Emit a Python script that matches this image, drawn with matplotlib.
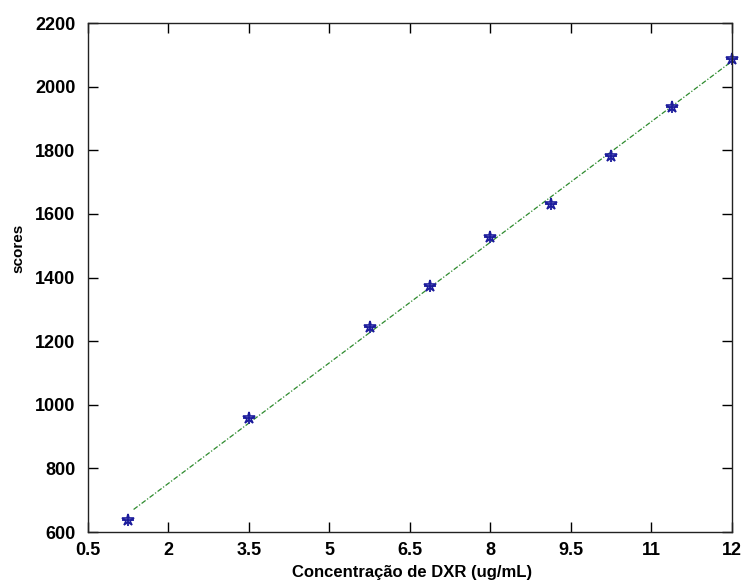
import numpy as np
import matplotlib
matplotlib.use("Agg")
import matplotlib.pyplot as plt

conc = [1.25, 3.5, 5.75, 6.875, 8.0, 9.125, 10.25, 11.375, 12.5]
scores = [638, 957, 1244, 1373, 1526, 1632, 1782, 1936, 2087]
xticks = [0.5, 2, 3.5, 5, 6.5, 8, 9.5, 11, 12.5]
xticklabels = ["0.5", "2", "3.5", "5", "6.5", "8", "9.5", "11", "12"]
yticks = [600, 800, 1000, 1200, 1400, 1600, 1800, 2000, 2200]

plt.rcParams["font.family"] = ["Liberation Sans", "DejaVu Sans"]

fig = plt.figure(figsize=(7.5, 5.84), dpi=100)
ax = fig.add_axes([0.1173, 0.089, 0.8587, 0.8716])

coef = np.polyfit(conc, scores, 1)
xf = np.array([conc[0] + 0.1, conc[-1]])
ax.plot(xf, np.polyval(coef, xf), linestyle="-.", color="#2e8b2e", linewidth=0.9, dashes=(4, 1.5, 1, 1.5))
ax.plot(conc, scores, linestyle="none", marker="*", markersize=9, color="#1c1c9c",
        markeredgewidth=1.2, markerfacecolor="none", clip_on=False)
ax.plot(conc, scores, linestyle="none", marker="+", markersize=9, color="#1c1c9c",
        markeredgewidth=1.3, clip_on=False)

ax.set_xlim(0.5, 12.5)
ax.set_ylim(600, 2200)
ax.set_xticks(xticks)
ax.set_xticklabels(xticklabels)
ax.set_yticks(yticks)
ax.tick_params(direction="in", length=7, width=1, top=True, right=True,
               labelsize=13, colors="black")
ax.tick_params(axis="x", pad=7)
ax.tick_params(axis="y", pad=9)
for lab in ax.get_xticklabels() + ax.get_yticklabels():
    lab.set_fontweight("bold")
for s in ax.spines.values():
    s.set_linewidth(1.0)
    s.set_color("#222222")

ax.set_xlabel("Concentração de DXR (ug/mL)", fontsize=12, fontweight="bold")
ax.xaxis.set_label_coords(0.503, -0.065)
ax.set_ylabel("scores", fontsize=11, fontweight="bold")
ax.yaxis.set_label_coords(-0.097, 0.558)

fig.savefig("out.png", dpi=100, facecolor="white")
